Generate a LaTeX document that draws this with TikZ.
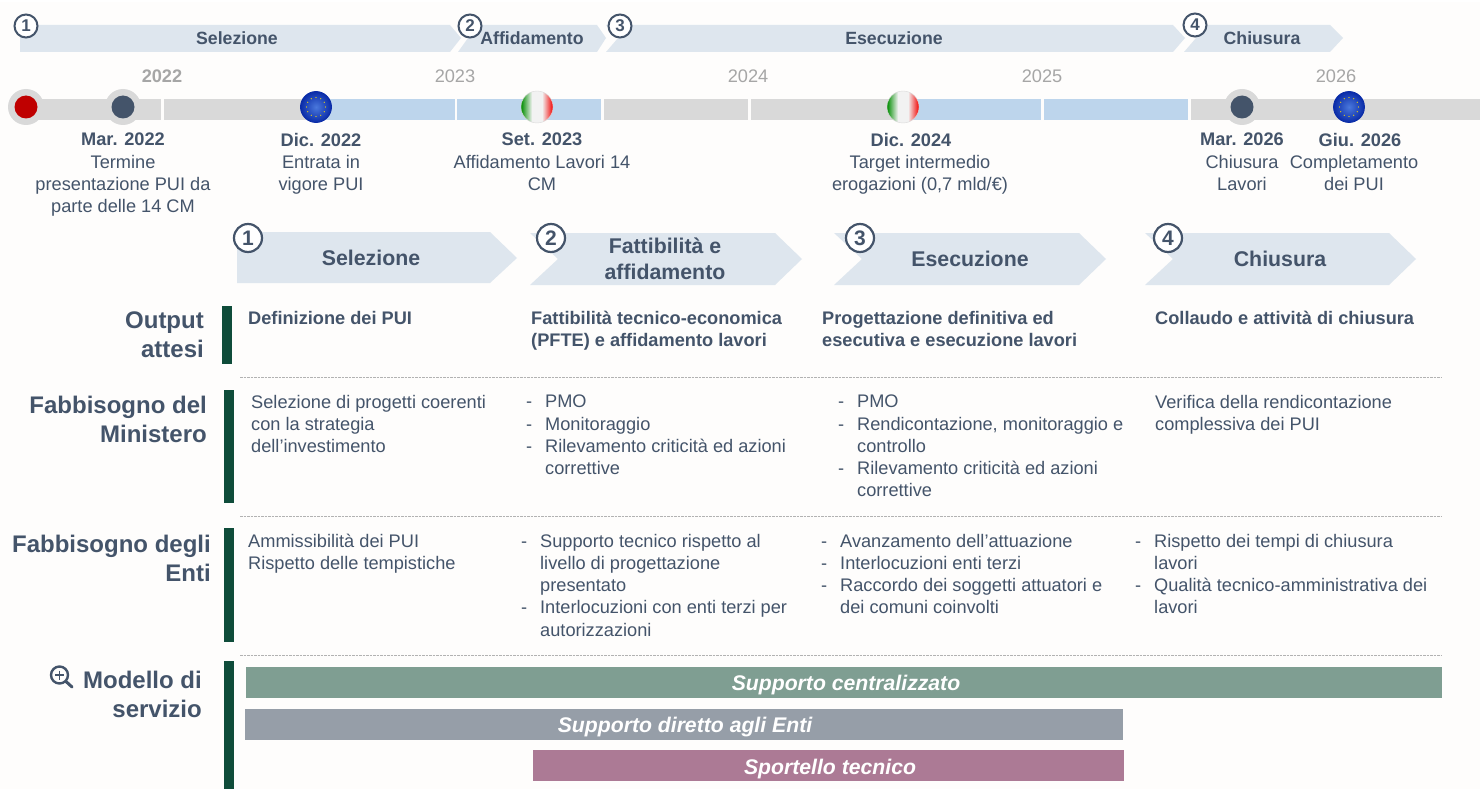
\documentclass[tikz,border=0pt]{standalone}
\usepackage{fontspec}
\setmainfont{Liberation Sans}
\usetikzlibrary{shadings}
\definecolor{ink}{HTML}{44546A}
\definecolor{band}{HTML}{DEE6EE}
\definecolor{tl}{HTML}{D9D9D9}
\definecolor{tlblue}{HTML}{BDD5EC}
\definecolor{yr}{HTML}{A6A6A6}
\definecolor{dkgreen}{HTML}{0F4C3A}
\definecolor{bgreen}{HTML}{7F9E92}
\definecolor{bgray}{HTML}{969EA8}
\definecolor{bmauve}{HTML}{AC7A95}
\definecolor{bg}{HTML}{FEFDFC}
\definecolor{euin}{HTML}{4A78DC}
\definecolor{euout}{HTML}{0A2CA8}
\tikzset{
  chev/.style={fill=band,draw=none},
  tlbar/.style={fill=tl,draw=none},
  tlb/.style={fill=tlblue,draw=none},
  sidebar/.style={fill=dkgreen,draw=none},
  dashline/.style={draw=gray!60,dash pattern=on 2.5pt off 1pt,line width=0.7pt},
  num/.style={circle,draw=ink,fill=white,line width=2pt,inner sep=0pt,minimum size=23pt,text=ink,font=\fontsize{17}{17}\selectfont\bfseries},
  numb/.style={num,minimum size=28pt,line width=2.2pt,font=\fontsize{21}{21}\selectfont\bfseries},
  chtop/.style={text=ink,font=\fontsize{17.7}{17.7}\selectfont\bfseries,inner sep=0pt},
  chbig/.style={text=ink,font=\fontsize{21.3}{26.5}\selectfont\bfseries,align=center,inner sep=0pt},
  year/.style={text=yr,font=\fontsize{18.2}{18.2}\selectfont,inner sep=0pt},
  evt/.style={text=ink,font=\fontsize{18.2}{22.2}\selectfont,align=center,inner sep=0pt,anchor=north},
  body/.style={text=ink,font=\fontsize{18.2}{22.2}\selectfont,align=left,inner sep=0pt,anchor=north west},
  bodyb/.style={body,font=\fontsize{18.2}{22.2}\selectfont\bfseries},
  rowh/.style={text=ink,font=\fontsize{24}{29}\selectfont\bfseries,align=right,inner sep=0pt,anchor=north east},
  svc/.style={text=white,font=\fontsize{21.2}{21.2}\selectfont\bfseries\itshape,inner sep=0pt},
  ring/.style={circle,fill=tl,draw=none,inner sep=0pt,minimum size=36pt},
}
\newcommand{\Li}{\makebox[19pt][l]{-}}
\newcommand{\Ci}{\makebox[19pt]{}}
\newcommand{\ItFlag}[3]{%
  \begin{scope}
    \clip (#2,#3) circle (16);
    \fill[white!95!black] (#2-16,#3-16) rectangle (#2+16,#3+16);
    \shade[left color=green!55!black,right color=white!95!black] (#2-16,#3-16) rectangle (#2-5,#3+16);
    \shade[left color=white!95!black,right color=red!95!black] (#2+5,#3-16) rectangle (#2+16,#3+16);
  \end{scope}
  \node[circle,draw=gray!30,line width=0.4pt,minimum size=32pt,inner sep=0pt] (#1) at (#2,#3) {};
}
\newcommand{\EuFlag}[3]{%
  \shade[inner color=euin,outer color=euout] (#2,#3) circle (15.5);
  \node[circle,draw=euout,line width=0.8pt,minimum size=31pt,inner sep=0pt] (#1) at (#2,#3) {};
  \foreach \a in {0,30,...,330} \fill[yellow!80!orange] (#1.center) ++(\a:9.5) circle (0.7);
}
\begin{document}
\begin{tikzpicture}[x=1pt,y=-1pt]
\useasboundingbox (0,0) rectangle (1480,789);
\fill[bg] (0,0) rectangle (1480,789);
\fill[white] (0,0) rectangle (1480,2);
% top chevrons
\fill[chev] (20,25) -- (450,25) -- (461,38) -- (450,52) -- (20,52) -- cycle;
\fill[chev] (458,25) -- (597,25) -- (606,38) -- (597,52) -- (458,52) -- (468,38) -- cycle;
\fill[chev] (606,25) -- (1173,25) -- (1185,38) -- (1173,52) -- (606,52) -- (618,38) -- cycle;
\fill[chev] (1184,25) -- (1330,25) -- (1343,38) -- (1330,52) -- (1184,52) -- (1196,38) -- cycle;
\node[chtop] (t1) at (237,38) {Selezione};
\node[chtop] (t2) at (532,38) {Affidamento};
\node[chtop] (t3) at (894,38) {Esecuzione};
\node[chtop] (t4) at (1262,38) {Chiusura};
\node[num] (n1) at (26,26) {1};
\node[num] (n2) at (470,26) {2};
\node[num] (n3) at (620,26) {3};
\node[num] (n4) at (1195,25) {4};
% years
\node[year,font=\fontsize{18.2}{18.2}\selectfont\bfseries] (y22) at (162,76) {2022};
\node[year] (y23) at (455,76) {2023};
\node[year] (y24) at (748,76) {2024};
\node[year] (y25) at (1042,76) {2025};
\node[year] (y26) at (1336,76) {2026};
% timeline
\fill[tlbar] (13,99) rectangle (161,120);
\fill[tlbar] (164,99) rectangle (316,120);
\fill[tlb] (316,99) rectangle (455,120);
\fill[tlb] (457,99) rectangle (601,120);
\fill[tlbar] (604,99) rectangle (748,120);
\fill[tlbar] (751,99) rectangle (903,120);
\fill[tlb] (903,99) rectangle (1041,120);
\fill[tlb] (1044,99) rectangle (1188,120);
\fill[tlbar] (1191,99) rectangle (1480,120);
% markers
\node[ring] (m1) at (26,107) {};
\fill[red!75!black] (m1.center) circle (11.5);
\node[ring] (m2) at (123,107) {};
\fill[ink] (m2.center) circle (11.5);
\EuFlag{m3}{316}{107}
\ItFlag{m4}{537}{107}
\ItFlag{m5}{903}{107}
\node[ring] (m6) at (1242,107) {};
\fill[ink] (m6.center) circle (11.5);
\EuFlag{m7}{1349}{107}
% events
\node[evt] (e1) at (123,133) {\textbf{Mar. 2022}\\Termine\\presentazione PUI da\\parte delle 14 CM};
\node[evt] (e2) at (321,133) {\textbf{Dic. 2022}\\Entrata in\\vigore PUI};
\node[evt] (e3) at (542,133) {\textbf{Set. 2023}\\Affidamento Lavori 14\\CM};
\node[evt] (e4) at (920,133) {\textbf{Dic. 2024}\hspace*{18pt}\\Target intermedio\\erogazioni (0,7 mld/€)};
\node[evt] (e5) at (1242,133) {\textbf{Mar. 2026}\\Chiusura\\Lavori};
\node[evt] (e6) at (1354,133) {\hspace*{12pt}\textbf{Giu. 2026}\\Completamento\\dei PUI};
% big chevrons
\fill[chev] (237,232) -- (490,232) -- (517,258) -- (490,283) -- (237,283) -- cycle;
\fill[chev] (530,233) -- (775,233) -- (802,259) -- (775,285) -- (530,285) -- (558,259) -- cycle;
\fill[chev] (834,233) -- (1079,233) -- (1106,259) -- (1079,285) -- (834,285) -- (862,259) -- cycle;
\fill[chev] (1145,233) -- (1389,233) -- (1416,259) -- (1389,285) -- (1145,285) -- (1173,259) -- cycle;
\node[chbig] (c1) at (371,258) {Selezione};
\node[chbig] (c2) at (665,259) {Fattibilità e\\affidamento};
\node[chbig] (c3) at (970,259) {Esecuzione};
\node[chbig] (c4) at (1280,259) {Chiusura};
\node[numb] (b1) at (248,238) {1};
\node[numb] (b2) at (551,238) {2};
\node[numb] (b3) at (860,238) {3};
\node[numb] (b4) at (1168,238) {4};
% side bars
\fill[sidebar] (222,306) rectangle (232,364);
\fill[sidebar] (224,390) rectangle (234,503);
\fill[sidebar] (224,528) rectangle (234,642);
\fill[sidebar] (224,661) rectangle (234,789);
% row heads
\node[rowh] (h1) at (204,312) {Output\\attesi};
\node[rowh] (h2) at (207,396) {Fabbisogno del\\Ministero};
\node[rowh] (h3) at (211,535) {Fabbisogno degli\\Enti};
\node[rowh] (h4) at (202,671) {Modello di\\servizio};
% magnifier
\draw[ink,line width=2.4pt] (59.5,675) circle (8.5);
\draw[ink,line width=3pt,line cap=round] (66,681.5) -- (72,687);
\draw[ink,line width=1.4pt] (55,675) -- (64,675) (59.5,670.5) -- (59.5,679.5);
% row 1
\node[bodyb] (o1) at (248,311) {Definizione dei PUI};
\node[bodyb] (o2) at (531,311) {Fattibilità tecnico-economica\\(PFTE) e affidamento lavori};
\node[bodyb] (o3) at (822,311) {Progettazione definitiva ed\\esecutiva e esecuzione lavori};
\node[bodyb] (o4) at (1155,311) {Collaudo e attività di chiusura};
\draw[dashline] (240,377) -- (1441,377);
% row 2
\node[body] (f1) at (251,395) {Selezione di progetti coerenti\\con la strategia\\dell’investimento};
\node[body] (f2) at (526,395) {\Li PMO\\\Li Monitoraggio\\\Li Rilevamento criticità ed azioni\\\Ci correttive};
\node[body] (f3) at (838,395) {\Li PMO\\\Li Rendicontazione, monitoraggio e\\\Ci controllo\\\Li Rilevamento criticità ed azioni\\\Ci correttive};
\node[body] (f4) at (1155,395) {Verifica della rendicontazione\\complessiva dei PUI};
\draw[dashline] (240,516) -- (1441,516);
% row 3
\node[body] (g1) at (248,534) {Ammissibilità dei PUI\\Rispetto delle tempistiche};
\node[body] (g2) at (521,534) {\Li Supporto tecnico rispetto al\\\Ci livello di progettazione\\\Ci presentato\\\Li Interlocuzioni con enti terzi per\\\Ci autorizzazioni};
\node[body] (g3) at (821,534) {\Li Avanzamento dell’attuazione\\\Li Interlocuzioni enti terzi\\\Li Raccordo dei soggetti attuatori e\\\Ci dei comuni coinvolti};
\node[body] (g4) at (1135,534) {\Li Rispetto dei tempi di chiusura\\\Ci lavori\\\Li Qualità tecnico-amministrativa dei\\\Ci lavori};
\draw[dashline] (240,655) -- (1441,655);
% service bars
\fill[bgreen] (246,667) rectangle (1442,698);
\fill[bgray] (245,709) rectangle (1123,740);
\fill[bmauve] (533,750) rectangle (1124,781);
\node[svc] (s1) at (846,685) {Supporto centralizzato};
\node[svc] (s2) at (685,727) {Supporto diretto agli Enti};
\node[svc] (s3) at (830,769) {Sportello tecnico};
\end{tikzpicture}
\end{document}
